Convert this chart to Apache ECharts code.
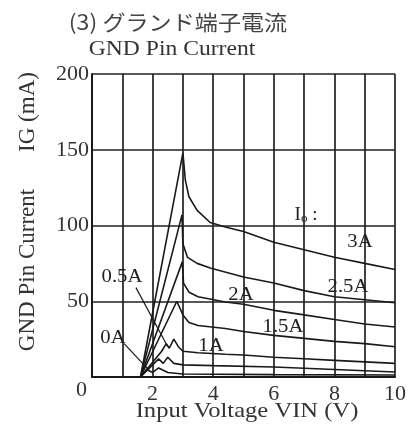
<!DOCTYPE html>
<html>
<head>
<meta charset="utf-8">
<script src="https://cdn.jsdelivr.net/npm/echarts@6/dist/echarts.min.js"></script>
<style>
  html, body { margin: 0; padding: 0; background: #fff; }
  #chart { width: 409px; height: 429px; }
</style>
</head>
<body>
<div id="chart"></div>
<script>
// GND pin current IG (mA) vs input voltage VIN (V), one curve per output current Io
const vinTicks = [0, 1, 2, 3, 4, 5, 6, 7, 8, 9, 10];
const igTicks = [0, 50, 100, 150, 200];

const curve3A = [[1.6, 0], [3.0, 148], [3.08, 130], [3.2, 119], [3.47, 110], [3.9, 102], [4.4, 99], [5, 96], [6, 89], [7, 84], [8, 79], [9, 75], [10, 71]];
const curve25A = [[1.6, 0], [2.97, 107], [3.0, 88], [3.15, 79], [3.47, 75], [3.9, 72], [5, 66], [6, 62], [7, 57], [8, 53], [9, 51], [10, 49]];
const curve2A = [[1.6, 0], [2.98, 76], [3.02, 62], [3.2, 56], [3.5, 53], [4.4, 49.5], [5, 48], [6, 44], [7, 41], [8, 38], [9, 35], [10, 33]];
const curve15A = [[1.6, 0], [2.8, 50], [3.0, 41], [3.2, 36], [3.5, 34], [4.4, 32], [5, 30], [6, 27.5], [7, 25.5], [8, 23.5], [9, 22], [10, 20]];
const curve1A = [[1.6, 0], [2.3, 17], [2.45, 22], [2.55, 19], [2.7, 25], [2.85, 20], [3.0, 17], [3.5, 16], [4.4, 15], [5, 14.5], [6, 13], [7, 12], [8, 11], [9, 10], [10, 9]];
const curve05A = [[1.6, 0], [2.0, 8], [2.2, 12], [2.35, 9], [2.5, 13], [2.7, 9], [3.0, 8], [4, 7.5], [6, 6.6], [8, 5], [10, 3.3]];
const curve0A = [[1.6, 0], [1.8, 5], [2.0, 3], [2.2, 6], [2.5, 3], [3.0, 2], [6, 1.6], [10, 1.3]];

// label leader lines (from the text towards its curve)
const leader05A = [[1.45, 59], [2.5, 20]];
const leader0A = [[1.06, 22], [1.9, 4]];

const curves = [curve3A, curve25A, curve2A, curve15A, curve1A, curve05A, curve0A];
const curveNames = ['3A', '2.5A', '2A', '1.5A', '1A', '0.5A', '0A'];

const ink = '#1a1a1a';
const serif = '"Liberation Serif", "Times New Roman", serif';

const chart = echarts.init(document.getElementById('chart'), null, { renderer: 'canvas' });

const series = curves.map((d, i) => ({
  name: curveNames[i],
  type: 'line',
  data: d,
  showSymbol: false,
  silent: true,
  lineStyle: { color: ink, width: 1.6 }
}));
[leader05A, leader0A].forEach((d) => series.push({
  type: 'line', data: d, showSymbol: false, silent: true,
  lineStyle: { color: ink, width: 1.2 }
}));

const txt = (x, y, text, size, opts) => Object.assign({
  type: 'text', x: x, y: y,
  style: Object.assign({
    text: text, fill: '#222', font: size + 'px ' + serif,
    textAlign: 'center', textVerticalAlign: 'middle'
  }, (opts && opts.style) || {})
}, (opts && opts.el) || {});

chart.setOption({
  animation: false,
  backgroundColor: '#fff',
  grid: { left: 92, right: 6, top: 74, bottom: 52 },
  xAxis: {
    type: 'value', min: vinTicks[0], max: vinTicks[vinTicks.length - 1], interval: 1,
    axisLine: { lineStyle: { color: ink, width: 2 } },
    axisTick: { show: false },
    splitLine: { lineStyle: { color: '#222', width: 1.7 } },
    axisLabel: {
      color: '#333', fontFamily: serif, fontSize: 22, margin: 6,
      formatter: (v) => (v > 0 && v % 2 === 0) ? String(v) : ''
    }
  },
  yAxis: {
    type: 'value', min: igTicks[0], max: igTicks[igTicks.length - 1], interval: 50,
    axisLine: { show: true, lineStyle: { color: ink, width: 2 } },
    axisTick: { show: false },
    splitLine: { lineStyle: { color: '#222', width: 1.7 } },
    axisLabel: {
      color: '#333', fontFamily: serif, fontSize: 22, margin: 3,
      formatter: (v) => v === 0 ? '{z|0}' : String(v),
      rich: { z: { fontFamily: serif, fontSize: 22, color: '#333', padding: [26, 2, 0, 0] } }
    }
  },
  series: series,
  graphic: [
    txt(178, 22, '(3) グランド端子電流', 21, { style: { font: '21px "Noto Sans CJK JP", sans-serif', fill: '#444' }, el: { scaleX: 1.1 } }),
    txt(172, 50, 'GND Pin Current', 20, { style: { fill: '#333' }, el: { scaleX: 1.18 } }),
    txt(28, 270, 'GND Pin Current', 23, { style: { fill: '#333' }, el: { rotation: Math.PI / 2 } }),
    txt(28, 112, 'IG (mA)', 23, { style: { fill: '#333' }, el: { rotation: Math.PI / 2 } }),
    txt(247, 411, 'Input Voltage VIN (V)', 21, { style: { fill: '#333' }, el: { scaleX: 1.17 } }),
    {
      type: 'text', x: 306, y: 215,
      style: {
        text: '{i|I}{o|o}{c| :}', textAlign: 'center', textVerticalAlign: 'middle',
        rich: {
          i: { font: '19px ' + serif, fill: '#222' },
          o: { font: '13px ' + serif, fill: '#222', padding: [8, 0, 0, 0] },
          c: { font: '19px ' + serif, fill: '#222' }
        }
      }
    },
    txt(360, 242, '3A', 18, { el: { scaleX: 1.15 } }),
    txt(348, 287, '2.5A', 18, { el: { scaleX: 1.15 } }),
    txt(241, 295, '2A', 18, { el: { scaleX: 1.15 } }),
    txt(283, 327, '1.5A', 18, { el: { scaleX: 1.15 } }),
    txt(211, 346, '1A', 18, { el: { scaleX: 1.15 } }),
    txt(122, 277, '0.5A', 18, { el: { scaleX: 1.15 } }),
    txt(113, 338, '0A', 18, { el: { scaleX: 1.15 } })
  ]
});
</script>
</body>
</html>
